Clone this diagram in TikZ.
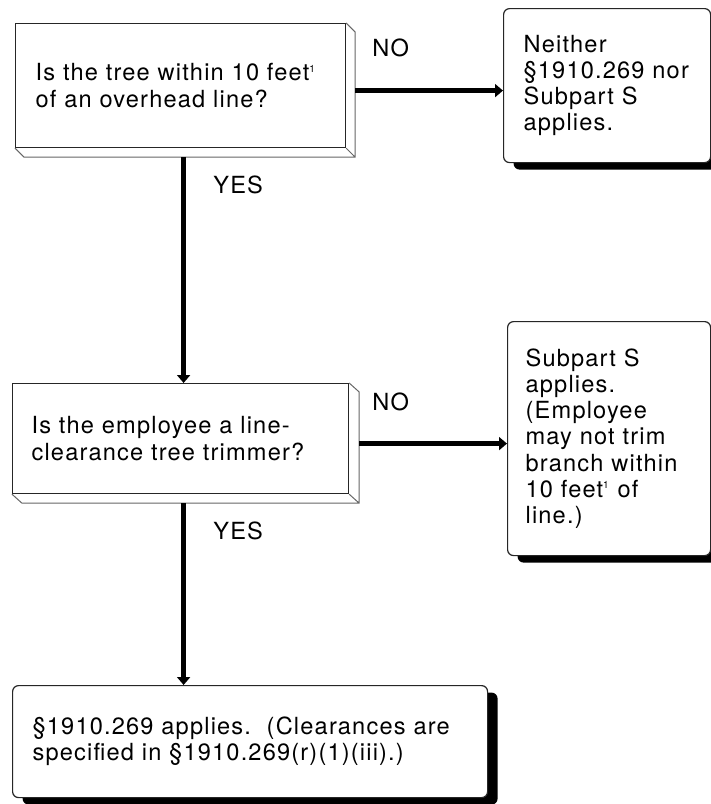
\documentclass[tikz,border=0pt]{standalone}
\usepackage{fontspec}
\setmainfont{TeX Gyre Heros}[LetterSpace=5]
\usetikzlibrary{arrows.meta,shadows}
\newcommand\fnone{\textsuperscript{\fontsize{5}{5}\selectfont 1}}

\begin{document}
\begin{tikzpicture}[x=0.5pt,y=-0.5pt,
  font=\fontsize{11.8}{13.1}\selectfont,
  question/.style={draw=black!85,line width=0.6pt,fill=white,anchor=north west,
    align=left,inner xsep=10pt,inner ysep=0pt},
  answer/.style={question,rounded corners=3pt,
    drop shadow={shadow xshift=5pt,shadow yshift=-3.5pt,opacity=1,fill=black}},
  bevel/.style={draw=black!60,line width=0.5pt},
  conn/.style={line width=2.3pt,-{Triangle[width=6.5pt,length=4pt]}},
  lab/.style={anchor=west,inner sep=0pt}]
\useasboundingbox (0,0) rectangle (711,804);
\clip (0,0) rectangle (711,804);
\node[question,minimum width=165pt,minimum height=62pt,text width=145pt] (q1) at (15,23)
  {Is the tree within 10 feet\fnone\\of an overhead line?};
\draw[bevel] (q1.north east) -- ++(9,9) |- ([shift={(9,9)}]q1.south west) -- (q1.south west)
  (q1.south east) -- ++(9,9);
\node[answer,minimum width=103.5pt,minimum height=77pt,text width=83.5pt] (a1) at (503,8)
  {Neither\\§1910.269 nor\\Subpart S\\applies.};
\node[question,minimum width=168pt,minimum height=55pt,inner xsep=9.5pt,text width=149pt] (q2) at (12,383)
  {Is the employee a line-\\clearance tree trimmer?};
\draw[bevel] (q2.north east) -- ++(10,9) |- ([shift={(10,9)}]q2.south west) -- (q2.south west)
  (q2.south east) -- ++(10,9);
\node[answer,minimum width=101.5pt,minimum height=117pt,inner xsep=9pt,text width=83.5pt] (a2) at (507,321)
  {Subpart S\\applies.\\(Employee\\may not trim\\branch within\\10 feet\fnone{} of\\line.)};
\node[answer,minimum width=237.5pt,minimum height=56pt,text width=217.5pt] (a3) at (12,685)
  {§1910.269 applies.~~(Clearances are\\specified in §1910.269(r)(1)(iii).)};
\coordinate (q1r) at ([shift={(9,5)}]q1.east);
\coordinate (q1b) at ([shift={(3,9)}]q1.south);
\coordinate (q2r) at ([shift={(10,5)}]q2.east);
\coordinate (q2b) at ([shift={(3,9)}]q2.south);
\draw[conn] (q1r) -- (q1r -| a1.west);
\draw[conn] (q1b) -- (q1b |- q2.north);
\draw[conn] (q2r) -- (q2r -| a2.west);
\draw[conn] (q2b) -- (q2b |- a3.north);
\node[lab] (no1) at (372,48) {NO};
\node[lab] (yes1) at (213,185) {YES};
\node[lab] (no2) at (372,402) {NO};
\node[lab] (yes2) at (213,531) {YES};
\end{tikzpicture}
\end{document}
